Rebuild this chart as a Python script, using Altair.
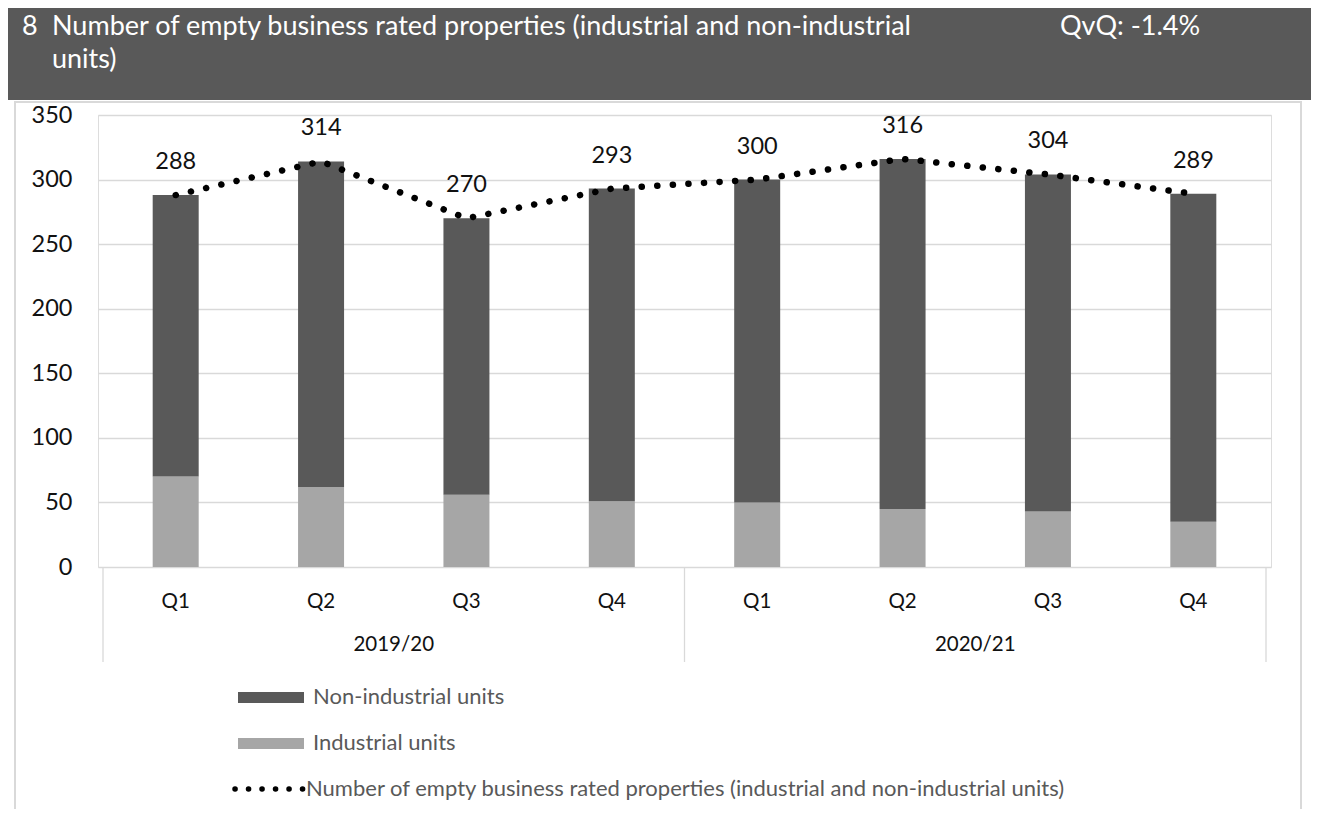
import altair as alt
import pandas as pd

quarters = ["Q1", "Q2", "Q3", "Q4", "Q1", "Q2", "Q3", "Q4"]
years = ["2019/20", "2020/21"]
year_centers = [1.5, 5.5]
separators = [-0.5, 3.5, 7.5]
totals = [288, 314, 270, 293, 300, 316, 304, 289]
industrial = [70, 62, 56, 51, 50, 45, 43, 35]
non_industrial = [t - i for t, i in zip(totals, industrial)]
title_lines = ["Number of empty business rated properties (industrial and non-industrial", "units)"]
title_number = "8"
qvq_text = "QvQ: -1.4%"
legend_labels = ["Non-industrial units", "Industrial units",
                 "Number of empty business rated properties (industrial and non-industrial units)"]

W, H = 1173, 452
FONT = "Lato"
TXT = "#111111"
LEGTXT = "#595959"
DARK = "#595959"
LIGHT = "#a6a6a6"
GRID = "#d9d9d9"

df = pd.DataFrame({
    "idx": list(range(8)),
    "q": quarters,
    "ind": industrial,
    "non": non_industrial,
    "tot": totals,
})
one = pd.DataFrame({"a": [0]})

xs = alt.Scale(domain=[-0.5, 7.5], nice=False, zero=False)
ys = alt.Scale(domain=[0, 350], nice=False)

base = alt.Chart(df)

bars_ind = base.mark_bar(width=46, color=LIGHT).encode(
    x=alt.X("idx:Q", scale=xs, axis=None),
    y=alt.Y("ind:Q", scale=ys, axis=alt.Axis(values=list(range(0, 351, 50)), title=None,
                                              grid=True, gridColor=GRID, gridWidth=1.3,
                                              domain=False, ticks=False, labelFontSize=23.5,
                                              labelColor=TXT, labelPadding=26, labelFont=FONT)),
)
bars_non = base.mark_bar(width=46, color=DARK).encode(
    x=alt.X("idx:Q", scale=xs),
    y=alt.Y("ind:Q", scale=ys),
    y2="tot:Q",
)
line = base.mark_line(color="black", strokeWidth=6.5, strokeDash=[0.1, 15.5], strokeCap="round").encode(
    x=alt.X("idx:Q", scale=xs),
    y=alt.Y("tot:Q", scale=ys),
)
labels = base.mark_text(dy=-33, fontSize=23.5, color=TXT, font=FONT).encode(
    x=alt.X("idx:Q", scale=xs),
    y=alt.Y("tot:Q", scale=ys),
    text="tot:Q",
)
qlabels = base.mark_text(fontSize=20.5, color=TXT, font=FONT, baseline="middle").encode(
    x=alt.X("idx:Q", scale=xs),
    y=alt.value(487),
    text="q:N",
)
ydf = pd.DataFrame({"pos": year_centers, "y": years})
ylabels = alt.Chart(ydf).mark_text(fontSize=20.5, color=TXT, font=FONT, baseline="middle").encode(
    x=alt.X("pos:Q", scale=xs),
    y=alt.value(530),
    text="y:N",
)
sdf = pd.DataFrame({"pos": separators})
seps = alt.Chart(sdf).mark_rule(color=GRID, strokeWidth=1.3).encode(
    x=alt.X("pos:Q", scale=xs),
    y=alt.value(452),
    y2=alt.value(547),
)

# header
header = alt.Chart(one).mark_rect(color=DARK).encode(
    x=alt.value(-90), x2=alt.value(1213), y=alt.value(-107), y2=alt.value(-15)
)
frame = alt.Chart(one).mark_rect(fill=None, stroke=GRID, strokeWidth=2).encode(
    x=alt.value(-83), x2=alt.value(1203), y=alt.value(-13), y2=alt.value(720)
)
tdf = pd.DataFrame({"t": [title_number] + title_lines + [qvq_text],
                    "x": [-76, -46, -46, 962], "y": [-88, -88, -55, -88]})
htext = alt.Chart(tdf).mark_text(align="left", baseline="middle", fontSize=27, color="white",
                                 font=FONT).encode(
    x=alt.X("x:Q", scale=None), y=alt.Y("y:Q", scale=None), text="t:N"
)

# legend
leg_sw = pd.DataFrame({"c": [DARK, LIGHT], "y1": [577, 623], "y2": [588, 634]})
leg_rects = alt.Chart(leg_sw).mark_rect().encode(
    x=alt.value(140), x2=alt.value(206),
    y=alt.Y("y1:Q", scale=None), y2="y2:Q",
    color=alt.Color("c:N", scale=None),
)
leg_line = alt.Chart(one).mark_rule(color="black", strokeWidth=5.5, strokeDash=[0.1, 13.4],
                                    strokeCap="round").encode(
    x=alt.value(137), x2=alt.value(205), y=alt.value(674)
)
ltdf = pd.DataFrame({"t": legend_labels, "x": [215, 215, 208], "y": [582, 628, 674]})
leg_text = alt.Chart(ltdf).mark_text(align="left", baseline="middle", fontSize=22, color=LEGTXT,
                                     font=FONT).encode(
    x=alt.X("x:Q", scale=None), y=alt.Y("y:Q", scale=None), text="t:N"
)

chart = alt.layer(
    frame, header, htext, bars_ind, bars_non, line, labels, qlabels, ylabels, seps,
    leg_rects, leg_line, leg_text
).resolve_scale(x="shared", y="shared").properties(
    width=W, height=H,
    autosize=alt.AutoSizeParams(type="none"),
    padding={"left": 90, "top": 107, "right": 40, "bottom": 242},
).configure_view(stroke=None).configure(font=FONT)

chart.save("out.html", embed_options={"renderer": "svg", "actions": False})
